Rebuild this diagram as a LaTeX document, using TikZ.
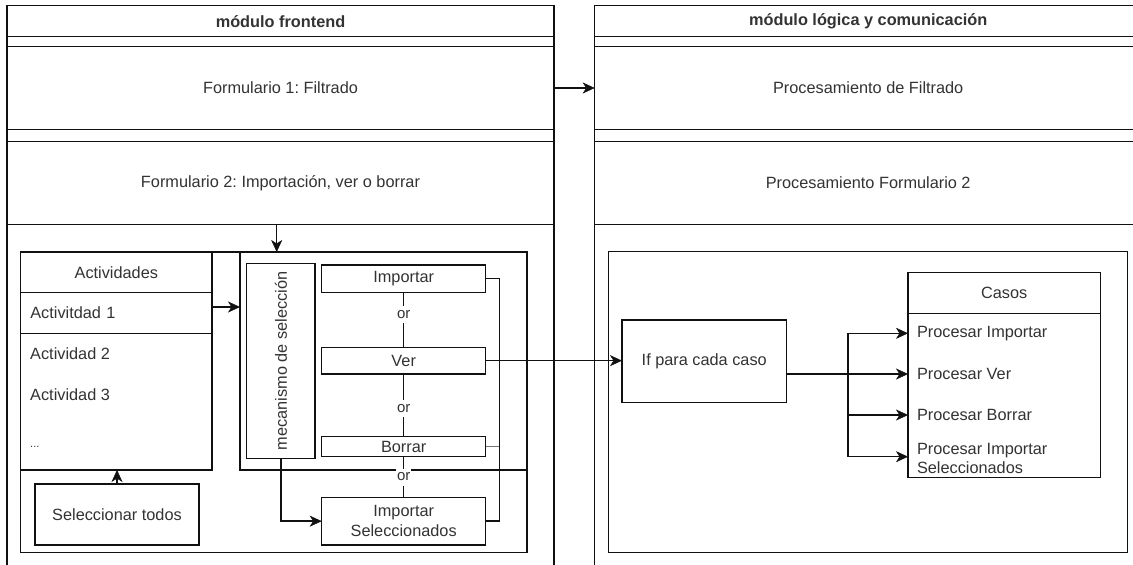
\documentclass[tikz,border=0pt]{standalone}
\usepackage{fontspec}
\setmainfont{Liberation Sans}
\usetikzlibrary{arrows.meta,calc}
\definecolor{lncol}{HTML}{111111}
\definecolor{txcol}{HTML}{333333}
\frenchspacing
\begin{document}
\begin{tikzpicture}[x=1pt,y=-1pt,
  font=\fontsize{16.3}{19.5}\selectfont,
  bx/.style={draw=lncol, line width=1.4pt, inner sep=0pt, outer sep=0pt, anchor=north west, text=txcol, align=center},
  wire/.style={draw=lncol, line width=1.4pt},
  arr/.style={draw=lncol, line width=1.4pt, -{Stealth[length=12pt,width=11pt,inset=3.5pt,fill=lncol,line width=0.5pt]}},
  txt/.style={text=txcol, inner sep=0pt, anchor=west, align=left},
  lbl/.style={text=txcol, fill=white, inner sep=1pt, minimum height=17pt, font=\fontsize{15}{17}\selectfont}]
\useasboundingbox (0,0) rectangle (1133,565);
\begin{scope}
\clip (0,0) rectangle (1133,565);
\fill[white] (0,0) rectangle (1133,565);

% ---------- left module ----------
\node[bx, minimum width=547pt, minimum height=31pt] (lt) at (7,5.7) {\bfseries módulo frontend};
\node[bx, minimum width=547pt, minimum height=10pt] (lb1) at (7,36.7) {};
\node[bx, minimum width=547pt, minimum height=82.6pt] (f1) at (7,46.7) {Formulario 1: Filtrado};
\node[bx, minimum width=547pt, minimum height=12.4pt] (lb2) at (7,129.3) {};
\node[bx, minimum width=547pt, minimum height=82.6pt] (f2) at (7,141.7) {Formulario 2: Importación, ver o borrar};
\node[bx, minimum width=547pt, minimum height=360pt] (lbody) at (7,224.3) {};

% ---------- right module ----------
\node[bx, minimum width=547pt, minimum height=31pt] (rt) at (594.7,5.7) {\bfseries módulo lógica y comunicación};
\node[bx, minimum width=547pt, minimum height=10pt] (rb1) at (594.7,36.7) {};
\node[bx, minimum width=547pt, minimum height=82.6pt] (p1) at (594.7,46.7) {Procesamiento de Filtrado};
\node[bx, minimum width=547pt, minimum height=12.4pt] (rb2) at (594.7,129.3) {};
\node[bx, minimum width=547pt, minimum height=82.6pt] (p2) at (594.7,141.7) {Procesamiento Formulario 2};
\node[bx, minimum width=547pt, minimum height=360pt] (rbody) at (594.7,224.3) {};

% ---------- left inner ----------
\node[bx, minimum width=506.3pt, minimum height=300.5pt] (big) at (20.7,252) {};
\node[bx, minimum width=191.3pt, minimum height=40.7pt] (acth) at (20.7,252) {Actividades};
\node[bx, minimum width=191.3pt, minimum height=40.6pt, text width=172pt, align=left] (act1) at (20.7,292.7) {Activitdad 1};
\node[bx, minimum width=191.3pt, minimum height=136.7pt] (actr) at (20.7,333.3) {};
\node[txt] (act2) at (30,354) {Actividad 2};
\node[txt] (act3) at (30,395) {Actividad 3};
\node[txt, font=\fontsize{11}{13}\selectfont] (actd) at (30,446.7) {...};

\node[bx, minimum width=287pt, minimum height=218pt] (mechc) at (240,252) {};
\node[bx, minimum width=68.3pt, minimum height=195pt] (mech) at (246.7,263.3) {};
\node[rotate=90, text=txcol, inner sep=0pt] (mecht) at (mech.center) {mecanismo de selección};
\node[bx, minimum width=164pt, minimum height=27.3pt] (imp) at (321.7,265) {Importar};
\node[bx, minimum width=164pt, minimum height=26.7pt] (ver) at (321.7,347.3) {Ver};
\node[bx, minimum width=164pt, minimum height=20pt] (bor) at (321.7,436.7) {Borrar};
\node[bx, minimum width=164pt, minimum height=47.7pt] (impsel) at (321.7,497.3) {Importar\\Seleccionados};
\node[bx, minimum width=164pt, minimum height=61pt] (selec) at (35,484) {Seleccionar todos};

% ---------- right inner ----------
\node[bx, minimum width=518.6pt, minimum height=300.6pt] (rbox) at (608.7,251.7) {};
\node[bx, minimum width=164.5pt, minimum height=82.3pt] (ifb) at (622,320) {If para cada caso};
\node[bx, minimum width=192.3pt, minimum height=41pt] (cash) at (908,272.3) {Casos};
\node[bx, minimum width=192.3pt, minimum height=164pt] (casb) at (908,313.3) {};
\node[txt] (pi) at (916.8,333.3) {Procesar Importar};
\node[txt] (pv) at (916.8,374) {Procesar Ver};
\node[txt] (pb) at (916.8,415) {Procesar Borrar};
\node[txt, font=\fontsize{16.3}{19}\selectfont] (pis) at (916.8,458.5) {Procesar Importar\\Seleccionados};

% ---------- connectors ----------
\draw[arr] (f1.east) -- (p1.west);
\draw[arr] ([xshift=-3.8pt]f2.south) -- ([xshift=-3.8pt]f2.south |- big.north);
\draw[arr] ([yshift=6pt]act1.east) -- ([yshift=6pt]act1.east -| mechc.west);
\draw[arr] (selec.north) -- (selec.north |- actr.south);

\draw[wire] (imp.south) -- node[lbl, pos=0.41] {or} (ver.north);
\draw[wire] (ver.south) -- node[lbl, pos=0.55] {or} (bor.north);
\draw[wire] (bor.south) -- node[lbl, pos=0.5] {or} (impsel.north);

\draw[wire] (imp.east) -- ++(13.6,0) |- (impsel.east);
\draw[wire, draw=black!55] (bor.east) -- ++(13.6,0);
\draw[arr] (mech.south) |- (impsel.west);

\draw[arr] (ver.east) -- (ver.east -| ifb.west);

\coordinate (br) at (848,374);
\draw[wire] (ifb.east |- pv.west) -- (br);
\draw[arr] (br) -- (pv.west -| casb.west);
\draw[arr] (br) |- (pi.west -| casb.west);
\draw[arr] (br) |- (pb.west -| casb.west);
\draw[arr] (br) |- ([yshift=1.8pt]pis.west -| casb.west);
\end{scope}
\end{tikzpicture}
\end{document}
